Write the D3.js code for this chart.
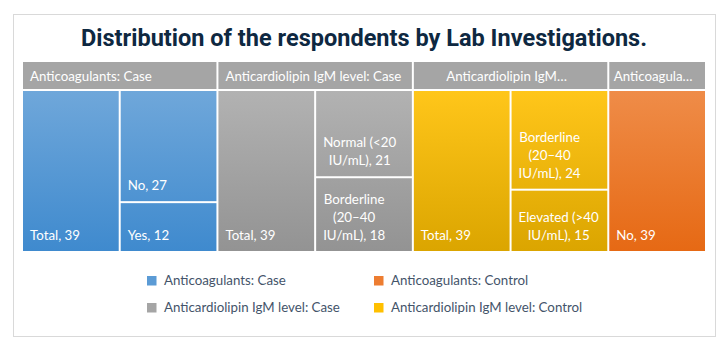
<!DOCTYPE html>
<html>
<head>
<meta charset="utf-8">
<script src="https://cdn.jsdelivr.net/npm/d3@7"></script>
<style>
  body { margin: 0; background: #fff; }
  text { font-family: Lato, "Open Sans", sans-serif; }
</style>
</head>
<body>
<div id="main"></div>
<script>
const ctx = {
    w: 728,
    h: 352,
    mapX: 23,
    mapY: 62,
    mapW: 682,
    mapH: 189,
    headerH: 29,
    lineH: 18,
    labelPad: 7,
    fontSize: 13.5,
};

// data
const GROUPS = ["Anticoagulants: Case", "Anticardiolipin IgM level: Case", "Anticardiolipin IgM level: Control", "Anticoagulants: Control"];
const GROUP_HEADERS = ["Anticoagulants: Case", "Anticardiolipin IgM level: Case", "Anticardiolipin IgM\u2026", "Anticoagula\u2026"];
const GROUP_COLORS = ["#5b9bd5", "#a5a5a5", "#ffc000", "#ed7d31"];
const LEAF_NAMES = [
    ["Total", "No", "Yes"],
    ["Total", "Normal (<20 IU/mL)", "Borderline (20\u201340 IU/mL)"],
    ["Total", "Borderline (20\u201340 IU/mL)", "Elevated (>40 IU/mL)"],
    ["No"]
];
const LEAF_VALUES = [
    [39, 27, 12],
    [39, 21, 18],
    [39, 24, 15],
    [39]
];
const LEGEND_ORDER = [0, 1, 3, 2];

function buildTree() {
    return {
        name: "root",
        children: GROUPS.map((g, i) => ({
            name: g, gi: i,
            children: LEAF_NAMES[i].map((n, j) => ({ name: n, gi: i, value: LEAF_VALUES[i][j] }))
        }))
    };
}

function wrapWords(textEl, str, maxW) {
    let words = str.split(" ");
    let lines = [];
    let cur = "";
    words.forEach(function (wd) {
        let test = cur ? cur + " " + wd : wd;
        textEl.text(test);
        if (textEl.node().getComputedTextLength() > maxW && cur) {
            lines.push(cur);
            cur = wd;
        } else {
            cur = test;
        }
    });
    lines.push(cur);
    return lines;
}

// pick a size so the label font is as wide as in the picture
function fitFontSize(svgEl) {
    let t = svgEl.append("text").style("font-size", "100px").text(GROUPS[0]);
    let w = t.node().getComputedTextLength();
    t.remove();
    ctx.fontSize = 100 * 122 / w;
}

function createViz() {
    let svgEl = d3.select("#main").append("svg")
        .attr("width", ctx.w)
        .attr("height", ctx.h);

    fitFontSize(svgEl);

    svgEl.append("rect")
        .attr("x", 13.5).attr("y", 14.5)
        .attr("width", 702).attr("height", 322)
        .attr("fill", "#fff")
        .attr("stroke", "#d9d9d9");

    svgEl.append("text")
        .attr("x", 364)
        .attr("y", 46)
        .attr("text-anchor", "middle")
        .attr("textLength", 566)
        .attr("lengthAdjust", "spacingAndGlyphs")
        .style("font-family", "Roboto, sans-serif")
        .style("font-weight", 700)
        .style("font-size", "23px")
        .attr("fill", "#0e2841")
        .text("Distribution of the respondents by Lab Investigations.");

    // gradients, lighter at top
    let defs = svgEl.append("defs");
    GROUP_COLORS.forEach(function (c, i) {
        let top = d3.hsl(c); top.l += 0.05;
        let bot = d3.hsl(c); bot.l -= 0.07;
        let grad = defs.append("linearGradient")
            .attr("id", "grad" + i)
            .attr("gradientUnits", "userSpaceOnUse")
            .attr("x1", 0).attr("x2", 0)
            .attr("y1", ctx.headerH)
            .attr("y2", ctx.mapH);
        grad.append("stop").attr("offset", "0%").attr("stop-color", top.formatHex());
        grad.append("stop").attr("offset", "100%").attr("stop-color", bot.formatHex());
    });

    let root = d3.hierarchy(buildTree()).sum((d) => d.value || 0);
    d3.treemap()
        .size([ctx.mapW, ctx.mapH])
        .tile(d3.treemapSquarify.ratio(1))
        .paddingInner(2)
        .paddingTop((d) => (d.depth === 1 ? ctx.headerH : 0))(root);

    let mapG = svgEl.append("g")
        .attr("transform", `translate(${ctx.mapX},${ctx.mapY})`);

    // group headers
    root.children.forEach(function (g) {
        let gi = g.data.gi;
        mapG.append("rect")
            .attr("x", g.x0).attr("y", g.y0)
            .attr("width", g.x1 - g.x0)
            .attr("height", ctx.headerH - 2)
            .attr("fill", "#a5a5a5");
        let t = mapG.append("text")
            .attr("y", g.y0 + 19)
            .attr("fill", "#fff")
            .style("font-size", ctx.fontSize + "px")
            .text(GROUP_HEADERS[gi]);
        if (GROUP_HEADERS[gi] !== GROUPS[gi]) {
            let tw = t.node().getComputedTextLength();
            t.attr("x", g.x0 + (g.x1 - g.x0 - tw) / 2 - 4);
        } else {
            t.attr("x", g.x0 + ctx.labelPad);
        }
    });

    // leaves
    root.leaves().forEach(function (d) {
        let gi = d.data.gi;
        mapG.append("rect")
            .attr("x", d.x0).attr("y", d.y0)
            .attr("width", d.x1 - d.x0)
            .attr("height", d.y1 - d.y0)
            .attr("fill", `url(#grad${gi})`);
        let label = `${d.data.name}, ${d.data.value}`;
        let t = mapG.append("text")
            .attr("fill", "#fff")
            .style("font-size", ctx.fontSize + "px");
        let lines = wrapWords(t, label, d.x1 - d.x0 - 10);
        let widths = lines.map(function (l) {
            t.text(l);
            return t.node().getComputedTextLength();
        });
        t.text(null);
        let blockW = d3.max(widths);
        let cx = d.x0 + ctx.labelPad + blockW / 2;
        let lastY = d.y1 - 11;
        t.attr("text-anchor", "middle");
        lines.forEach(function (l, k) {
            t.append("tspan")
                .attr("x", cx)
                .attr("y", lastY - (lines.length - 1 - k) * ctx.lineH)
                .text(l);
        });
    });

    // legend
    let legendG = svgEl.append("g").attr("id", "legend");
    LEGEND_ORDER.forEach(function (gi, k) {
        let col = Math.floor(k / 2), row = k % 2;
        let x = 147 + col * 227, y = 276 + row * 27;
        legendG.append("rect")
            .attr("x", x).attr("y", y)
            .attr("width", 9.5).attr("height", 9.5)
            .attr("fill", GROUP_COLORS[gi]);
        legendG.append("text")
            .attr("x", x + 17)
            .attr("y", y + 9)
            .attr("fill", "#44546a")
            .style("font-size", ctx.fontSize + "px")
            .text(GROUPS[gi]);
    });
}

createViz();
</script>
</body>
</html>
